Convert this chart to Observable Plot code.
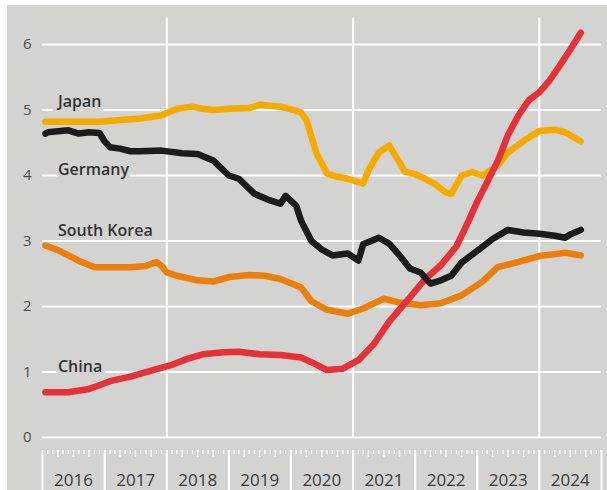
<!DOCTYPE html>
<html><head><meta charset="utf-8">
<script src="https://cdn.jsdelivr.net/npm/d3@7"></script>
<script src="https://cdn.jsdelivr.net/npm/@observablehq/plot@0.6"></script>
<style>
html,body{margin:0;padding:0;background:#fff;}
#chart{position:absolute;left:7px;top:5px;}
</style></head><body><div id="chart"></div>
<script>
// ---- data ----
const japanDates = ["2016-01-18","2016-12","2017-08","2017-12","2018-03","2018-06","2018-08","2018-10","2019-01","2019-05","2019-07","2019-11","2020-02","2020-03","2020-04","2020-06","2020-08","2020-10","2020-12","2021-03","2021-04","2021-06","2021-08","2021-10","2021-11","2022-01","2022-03","2022-05","2022-07","2022-08","2022-10","2022-12","2023-02","2023-05","2023-07","2023-10","2024-01","2024-04","2024-06","2024-09"];
const japanValues = [4.82,4.82,4.87,4.92,5.02,5.05,5.02,5.00,5.02,5.03,5.08,5.05,4.99,4.96,4.85,4.33,4.03,3.98,3.95,3.88,4.08,4.35,4.46,4.20,4.06,4.02,3.95,3.86,3.74,3.72,4.00,4.05,4.00,4.15,4.35,4.53,4.68,4.70,4.66,4.52];

const germanyDates = ["2016-01-18","2016-02","2016-06","2016-08","2016-10","2016-12","2017-01","2017-02","2017-04","2017-06","2017-08","2017-12","2018-04","2018-07","2018-10","2019-01","2019-03","2019-06","2019-09","2019-11","2019-12","2020-02","2020-03","2020-05","2020-07","2020-09","2020-12","2021-02","2021-03","2021-06","2021-08","2021-10","2021-12","2022-02","2022-03","2022-04","2022-06","2022-08","2022-10","2023-01","2023-04","2023-07","2023-10","2024-01","2024-04","2024-06","2024-07","2024-09"];
const germanyValues = [4.64,4.66,4.69,4.64,4.66,4.65,4.52,4.43,4.41,4.37,4.37,4.38,4.34,4.33,4.23,4.00,3.95,3.72,3.62,3.57,3.69,3.54,3.31,3.00,2.87,2.78,2.81,2.70,2.95,3.05,2.96,2.78,2.58,2.52,2.44,2.35,2.40,2.47,2.67,2.85,3.03,3.17,3.13,3.11,3.08,3.05,3.10,3.17];

const koreaDates = ["2016-01-18","2016-02","2016-04","2016-08","2016-11","2017-03","2017-06","2017-09","2017-11","2017-12","2018-01","2018-03","2018-07","2018-10","2019-01","2019-05","2019-08","2019-11","2020-03","2020-05","2020-08","2020-12","2021-03","2021-07","2021-10","2022-02","2022-06","2022-10","2023-02","2023-05","2023-09","2024-01","2024-04","2024-06","2024-09"];
const koreaValues = [2.93,2.92,2.86,2.70,2.60,2.60,2.60,2.62,2.68,2.62,2.52,2.47,2.40,2.38,2.45,2.48,2.47,2.42,2.29,2.08,1.95,1.89,1.97,2.12,2.06,2.02,2.05,2.17,2.38,2.60,2.68,2.77,2.80,2.82,2.78];

const chinaDates = ["2016-01-18","2016-06","2016-10","2017-02","2017-06","2017-10","2018-02","2018-05","2018-08","2018-12","2019-03","2019-07","2019-11","2020-03","2020-05","2020-08","2020-11","2021-02","2021-05","2021-08","2021-12","2022-03","2022-06","2022-09","2022-11","2023-01","2023-03","2023-05","2023-07","2023-09","2023-11","2024-01","2024-03","2024-05","2024-07","2024-09"];
const chinaValues = [0.69,0.69,0.74,0.86,0.93,1.02,1.11,1.20,1.27,1.30,1.31,1.27,1.26,1.22,1.15,1.03,1.05,1.18,1.42,1.77,2.14,2.42,2.63,2.92,3.25,3.60,3.90,4.22,4.62,4.92,5.15,5.27,5.45,5.68,5.92,6.18];

const yTicks = [0,1,2,3,4,5,6];
const yearLabels = ["2016","2017","2018","2019","2020","2021","2022","2023","2024"];
const gridYears = ["2018","2021","2024"];
const labelNames = ["Japan","Germany","South Korea","China"];
const labelDates = ["2016-04","2016-04","2016-04","2016-04"];
const labelValues = [5.12,4.09,3.16,1.08];

// ---- build ----
const series = [
  {name:"South Korea", dates:koreaDates, values:koreaValues, color:"#ec7f0c"},
  {name:"Japan", dates:japanDates, values:japanValues, color:"#f6aa00"},
  {name:"China", dates:chinaDates, values:chinaValues, color:"#e63138"},
  {name:"Germany", dates:germanyDates, values:germanyValues, color:"#1c1c1c"}
];
const bg = "#d3d3d1";
const x0 = new Date("2016-01-01"), x1 = new Date("2025-01-01");
const yearStarts = d3.utcYear.range(x0, d3.utcDay.offset(x1, 1));
const months = d3.utcMonth.range(x0, x1).filter(d => d.getUTCMonth() !== 0);
const quarterMonths = months.filter(d => d.getUTCMonth() % 3 === 0);
const plainMonths = months.filter(d => d.getUTCMonth() % 3 !== 0);
const yearMids = yearLabels.map(y => d3.utcDay.offset(new Date(y + "-01-01"), 182));
const gridDates = gridYears.map(y => new Date(y + "-01-01"));
const labels = labelNames.map((n, i) => ({name:n, date:new Date(labelDates[i]), value:labelValues[i]}));

const marks = [
  Plot.ruleY(yTicks, {stroke:"#fff", strokeWidth:2.2}),
  Plot.ruleX(gridDates, {stroke:"#fff", strokeWidth:2.2}),
  Plot.axisY(yTicks, {tickSize:0, tickPadding:11, fontSize:15, fill:"#4d4d4d", tickFormat:"d", label:null}),
  Plot.axisX(plainMonths, {tickSize:4, dy:13, text:null, stroke:"#fff", strokeWidth:1.4, label:null}),
  Plot.axisX(quarterMonths, {tickSize:7, dy:13, text:null, stroke:"#fff", strokeWidth:1.4, label:null}),
  Plot.axisX(yearStarts, {tickSize:42, dy:13, text:null, stroke:"#fff", strokeWidth:2.2, label:null}),
  Plot.axisX(yearMids, {tickSize:0, tickPadding:36, tickFormat:"%Y", fontSize:17, fill:"#3a3a3a", label:null})
];
for (const s of series) {
  const rows = s.dates.map((d, i) => ({date:new Date(d), value:s.values[i]}));
  marks.push(Plot.line(rows, {x:"date", y:"value", stroke:s.color, strokeWidth:6.5, strokeLinejoin:"round", strokeLinecap:"round"}));
}
marks.push(Plot.text(labels, {x:"date", y:"value", text:"name", textAnchor:"start", fontSize:16, fontWeight:600, fill:"#333", stroke:bg, strokeWidth:8, paintOrder:"stroke"}));

const chart = Plot.plot({
  width:600, height:485,
  marginLeft:35, marginRight:6, marginTop:12.8, marginBottom:53,
  style:{background:bg, fontFamily:"'Open Sans', sans-serif", overflow:"visible"},
  x:{type:"utc", domain:[x0, x1]},
  y:{domain:[0, 6.4]},
  marks
});
document.getElementById("chart").appendChild(chart);
</script></body></html>
